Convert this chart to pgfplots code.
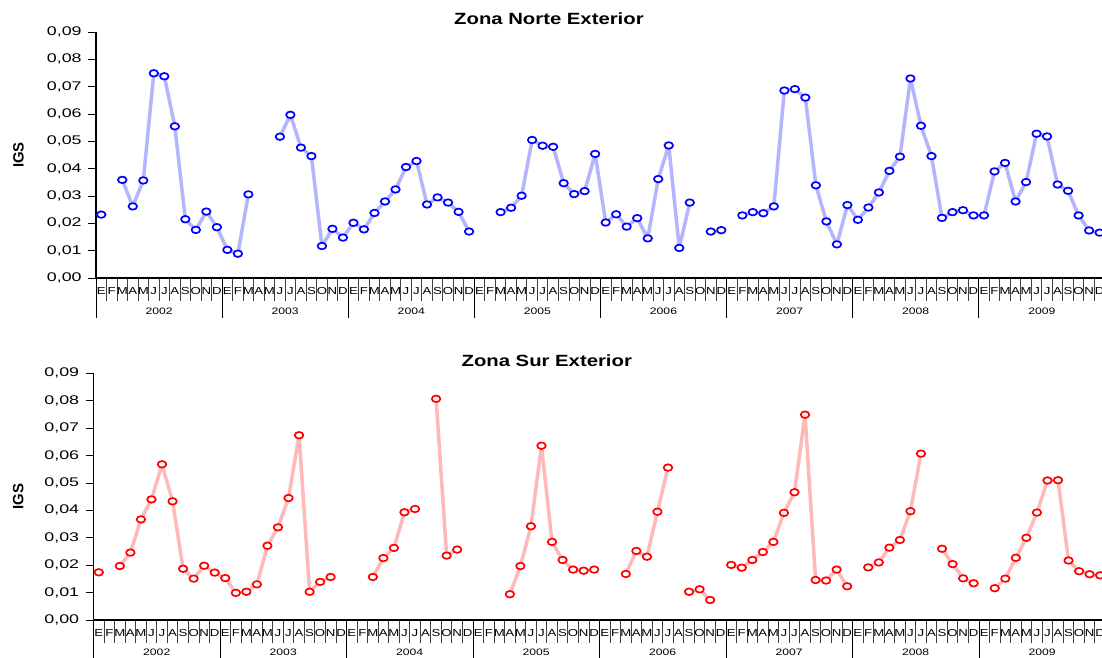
\documentclass[border=0pt]{standalone}
\usepackage{fontspec}
\setmainfont{Liberation Sans}
\usepackage{pgfplots}
\usepackage{pgfplotstable}
\pgfplotsset{compat=1.18}

\definecolor{lineblue}{RGB}{180,180,255}
\definecolor{mkblue}{RGB}{0,0,255}
\definecolor{linered}{RGB}{255,185,185}
\definecolor{mkred}{RGB}{255,0,0}

\pgfplotstableread{
x norte sur
0 0.0232 0.0174
1 nan nan
2 0.0359 0.0197
3 0.0262 0.0246
4 0.0357 0.0367
5 0.0749 0.0440
6 0.0738 0.0568
7 0.0555 0.0433
8 0.0215 0.0187
9 0.0176 0.0151
10 0.0243 0.0198
11 0.0186 0.0173
12 0.0103 0.0153
13 0.0089 0.0099
14 0.0306 0.0103
15 nan 0.0130
16 nan 0.0271
17 0.0517 0.0338
18 0.0597 0.0445
19 0.0477 0.0674
20 0.0446 0.0103
21 0.0117 0.0139
22 0.0180 0.0157
23 0.0148 nan
24 0.0202 nan
25 0.0178 nan
26 0.0238 0.0157
27 0.0280 0.0226
28 0.0324 0.0263
29 0.0406 0.0393
30 0.0428 0.0405
31 0.0269 nan
32 0.0295 0.0807
33 0.0276 0.0235
34 0.0242 0.0257
35 0.0170 nan
36 nan nan
37 nan nan
38 0.0241 nan
39 0.0257 0.0094
40 0.0301 0.0197
41 0.0505 0.0342
42 0.0484 0.0636
43 0.0480 0.0285
44 0.0347 0.0219
45 0.0307 0.0184
46 0.0318 0.0180
47 0.0454 0.0184
48 0.0203 nan
49 0.0233 nan
50 0.0188 0.0168
51 0.0219 0.0252
52 0.0145 0.0231
53 0.0362 0.0395
54 0.0485 0.0556
55 0.0110 nan
56 0.0276 0.0103
57 nan 0.0112
58 0.0170 0.0073
59 0.0175 nan
60 nan 0.0201
61 0.0229 0.0191
62 0.0241 0.0219
63 0.0237 0.0248
64 0.0262 0.0285
65 0.0686 0.0391
66 0.0691 0.0466
67 0.0660 0.0749
68 0.0339 0.0146
69 0.0207 0.0144
70 0.0123 0.0184
71 0.0267 0.0123
72 0.0213 nan
73 0.0258 0.0192
74 0.0313 0.0210
75 0.0392 0.0264
76 0.0444 0.0292
77 0.0730 0.0397
78 0.0557 0.0607
79 0.0446 nan
80 0.0220 0.0260
81 0.0241 0.0204
82 0.0248 0.0152
83 0.0229 0.0134
84 0.0229 nan
85 0.0390 0.0116
86 0.0421 0.0151
87 0.0280 0.0227
88 0.0351 0.0300
89 0.0528 0.0392
90 0.0518 0.0509
91 0.0342 0.0510
92 0.0319 0.0217
93 0.0229 0.0178
94 0.0174 0.0167
95 0.0166 0.0163
}\datatable

\pgfplotsset{
  igs/.style={
    scale only axis,
    xmin=-0.5, xmax=95.5, ymin=0, ymax=0.09,
    axis lines*=left,
    axis line style={line width=1.1bp, black},
    clip=false,
    unbounded coords=jump,
    tick align=outside,
    major tick length=7.5bp,
    minor tick length=23bp,
    tick style={line width=0.8bp, black},
    minor x tick style={black!75},
    major x tick style={draw=none},
    ytick={0,0.01,0.02,0.03,0.04,0.05,0.06,0.07,0.08,0.09},
    scaled y ticks=false,
    yticklabel={\pgfmathprintnumber[fixed, fixed zerofill, precision=2, use comma, assume math mode=true]{\tick}},
    yticklabel style={font=\fontsize{12.6}{14}\selectfont, xscale=1.42, inner sep=0pt, anchor=east},
    yticklabel shift=6.6bp,
    xtick={0,...,95},
    minor xtick={-0.5,0.5,...,95.5},
    xticklabels={E,F,M,A,M,J,J,A,S,O,N,D,E,F,M,A,M,J,J,A,S,O,N,D,E,F,M,A,M,J,J,A,S,O,N,D,E,F,M,A,M,J,J,A,S,O,N,D,E,F,M,A,M,J,J,A,S,O,N,D,E,F,M,A,M,J,J,A,S,O,N,D,E,F,M,A,M,J,J,A,S,O,N,D,E,F,M,A,M,J,J,A,S,O,N,D},
    xticklabel style={font=\fontsize{10.2}{11}\selectfont, xscale=1.3, inner sep=0pt, text height=7.3bp, text depth=0pt, anchor=north, yshift=-1.5bp},
  },
}
\tikzset{
  yrlab/.style={font=\fontsize{9.4}{11}\selectfont, xscale=1.3, inner sep=0pt, text height=6.7bp, text depth=0pt, anchor=center},
  ttl/.style={font=\bfseries\fontsize{16.3}{18}\selectfont, xscale=1.25, inner sep=0pt, text height=11.7bp, text depth=0pt, anchor=center},
  igsl/.style={font=\bfseries\fontsize{15}{17}\selectfont, rotate=90, inner sep=0pt, text height=10.8bp, text depth=0pt, anchor=center},
}

\begin{document}
\begin{tikzpicture}
% ---------- Zona Norte ----------
\begin{axis}[igs, at={(96bp,-278bp)}, anchor=south west, width=1009bp, height=246bp]
  \addplot[color=lineblue, line width=3.5bp, line join=round, line cap=round, mark=*, mark size=3.3bp,
    mark options={solid, fill=white, draw=mkblue, line width=1.7bp, xscale=1.3}]
    table[x=x, y=norte] {\datatable};
  \pgfplotsinvokeforeach{-0.5,11.5,23.5,35.5,47.5,59.5,71.5,83.5}{
    \draw[black, line width=0.8bp] (axis cs:#1,0) -- ([yshift=-40bp]axis cs:#1,0);
  }
  \node[yrlab] at ([yshift=-33bp]axis cs:5.5,0) {2002};
  \node[yrlab] at ([yshift=-33bp]axis cs:17.5,0) {2003};
  \node[yrlab] at ([yshift=-33bp]axis cs:29.5,0) {2004};
  \node[yrlab] at ([yshift=-33bp]axis cs:41.5,0) {2005};
  \node[yrlab] at ([yshift=-33bp]axis cs:53.5,0) {2006};
  \node[yrlab] at ([yshift=-33bp]axis cs:65.5,0) {2007};
  \node[yrlab] at ([yshift=-33bp]axis cs:77.5,0) {2008};
  \node[yrlab] at ([yshift=-33bp]axis cs:89.5,0) {2009};
  \node[ttl] at ([yshift=13.8bp]axis cs:42.6,0.09) {Zona Norte Exterior};
  \node[igsl] at ([xshift=-77.7bp]rel axis cs:0,0.5) {IGS};
\end{axis}
% ---------- Zona Sur ----------
\begin{axis}[igs, at={(93.5bp,-620bp)}, anchor=south west, width=1012bp, height=246.7bp]
  \addplot[color=linered, line width=3.5bp, line join=round, line cap=round, mark=*, mark size=3.3bp,
    mark options={solid, fill=white, draw=mkred, line width=1.7bp, xscale=1.3}]
    table[x=x, y=sur] {\datatable};
  \pgfplotsinvokeforeach{-0.5,11.5,23.5,35.5,47.5,59.5,71.5,83.5}{
    \draw[black, line width=0.8bp] (axis cs:#1,0) -- ([yshift=-40bp]axis cs:#1,0);
  }
  \node[yrlab] at ([yshift=-32bp]axis cs:5.5,0) {2002};
  \node[yrlab] at ([yshift=-32bp]axis cs:17.5,0) {2003};
  \node[yrlab] at ([yshift=-32bp]axis cs:29.5,0) {2004};
  \node[yrlab] at ([yshift=-32bp]axis cs:41.5,0) {2005};
  \node[yrlab] at ([yshift=-32bp]axis cs:53.5,0) {2006};
  \node[yrlab] at ([yshift=-32bp]axis cs:65.5,0) {2007};
  \node[yrlab] at ([yshift=-32bp]axis cs:77.5,0) {2008};
  \node[yrlab] at ([yshift=-32bp]axis cs:89.5,0) {2009};
  \node[ttl] at ([yshift=12.8bp]axis cs:42.5,0.09) {Zona Sur Exterior};
  \node[igsl] at ([xshift=-75.5bp]rel axis cs:0,0.5) {IGS};
\end{axis}
\pgfresetboundingbox
\path[use as bounding box] (0,0) rectangle (1102bp,-658bp);
\end{tikzpicture}
\end{document}
